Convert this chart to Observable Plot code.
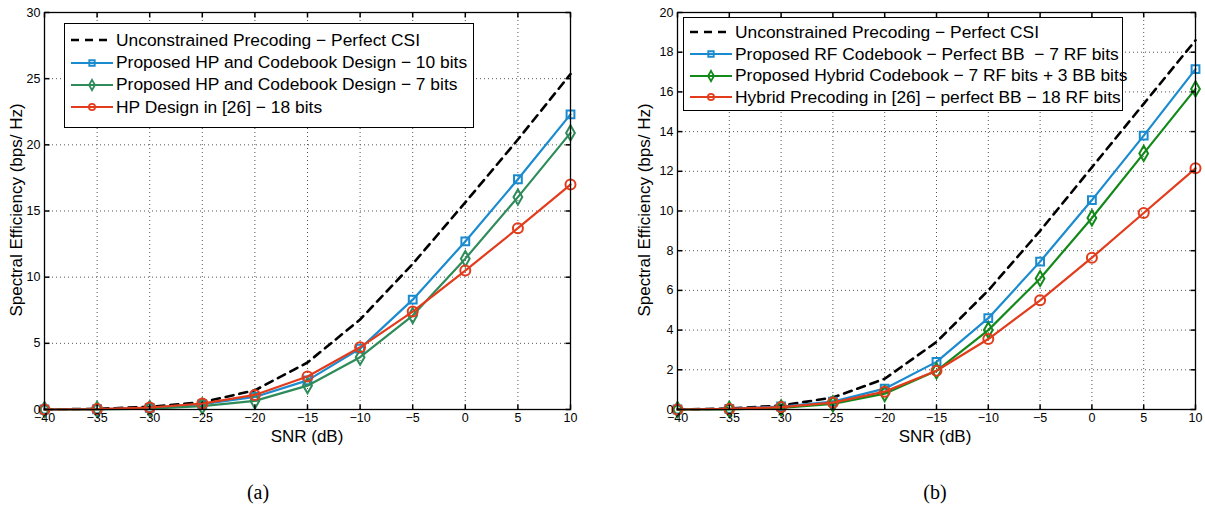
<!DOCTYPE html>
<html><head><meta charset="utf-8">
<script src="https://cdn.jsdelivr.net/npm/d3@7"></script>
<script src="https://cdn.jsdelivr.net/npm/@observablehq/plot@0.6"></script>
<style>
body{margin:0;background:#fff;}
#wrap{position:relative;width:1205px;height:508px;font-family:"Liberation Sans",Arial,sans-serif;color:#000;overflow:hidden;}
.panel{position:absolute;top:0;}
.legend{position:absolute;background:#fff;border:1.3px solid #000;box-sizing:border-box;font-size:17.4px;padding:0 0 0 6px;}
.row{display:flex;align-items:center;white-space:nowrap;}
.row svg{margin-right:3px;flex:none;}
.ylab{position:absolute;font-size:17px;white-space:nowrap;transform:translate(-50%,-50%) rotate(-90deg);}
.xlab{position:absolute;font-size:17px;white-space:nowrap;transform:translate(-50%,-50%);}
.cap{position:absolute;font-family:"Liberation Serif","Times New Roman",serif;font-size:20px;transform:translate(-50%,-50%);}
</style>
</head><body>
<div id="wrap"></div>
<script>
// ---------- data ----------
const snr = [-40, -35, -30, -25, -20, -15, -10, -5, 0, 5, 10];
const xTicks = [-40, -35, -30, -25, -20, -15, -10, -5, 0, 5, 10];

// panel (a)
const aUnconstrained = [0, 0.05, 0.2, 0.55, 1.45, 3.55, 6.8, 11.0, 15.65, 20.4, 25.35];
const aProposed10 = [0, 0.02, 0.12, 0.4, 0.95, 2.2, 4.6, 8.3, 12.7, 17.4, 22.3];
const aProposed7 = [0, 0.01, 0.07, 0.25, 0.65, 1.8, 3.95, 7.1, 11.4, 16.05, 20.9];
const aRef18 = [0, 0.03, 0.15, 0.45, 1.1, 2.5, 4.7, 7.4, 10.5, 13.7, 17.0];
const aYTicks = [0, 5, 10, 15, 20, 25, 30];
const aLabels = [
  "Unconstrained Precoding \u2212 Perfect CSI",
  "Proposed HP and Codebook Design \u2212 10 bits",
  "Proposed HP and Codebook Design \u2212 7 bits",
  "HP Design in [26] \u2212 18 bits"
];

// panel (b)
const bUnconstrained = [0, 0.05, 0.2, 0.6, 1.55, 3.4, 6.0, 9.0, 12.2, 15.4, 18.6];
const bProposedRF = [0, 0.03, 0.15, 0.4, 1.05, 2.4, 4.6, 7.45, 10.55, 13.8, 17.15];
const bHybrid = [0, 0.01, 0.08, 0.28, 0.8, 1.95, 4.0, 6.6, 9.65, 12.9, 16.15];
const bRef18 = [0, 0.03, 0.12, 0.35, 0.9, 1.95, 3.55, 5.5, 7.65, 9.9, 12.15];
const bYTicks = [0, 2, 4, 6, 8, 10, 12, 14, 16, 18, 20];
const bLabels = [
  "Unconstrained Precoding \u2212 Perfect CSI",
  "Proposed RF Codebook \u2212 Perfect BB\u00a0 \u2212 7 RF bits",
  "Proposed Hybrid Codebook \u2212 7 RF bits + 3 BB bits",
  "Hybrid Precoding in [26] \u2212 perfect BB \u2212 18 RF bits"
];

const xLabel = "SNR (dB)";
const yLabel = "Spectral Efficiency (bps/ Hz)";

// ---------- styles ----------
const BLUE = "#1a8bcf", RED = "#e23c1c";
const GREEN_A = "#2e8b5a", GREEN_B = "#13891a";

const tickUp = {draw(c){c.moveTo(0,0);c.lineTo(0,-5);}};
const tickDown = {draw(c){c.moveTo(0,0);c.lineTo(0,5);}};
const tickRight = {draw(c){c.moveTo(0,0);c.lineTo(5,0);}};
const tickLeft = {draw(c){c.moveTo(0,0);c.lineTo(-5,0);}};

function rows(ys){ return snr.map((x,i)=>({x, y: ys[i]})); }

function makePanel(cfg){
  const series = cfg.series;
  const marks = [
    Plot.ruleX(xTicks.slice(1,-1), {x: d=>d, stroke:"#555", strokeWidth:1, strokeDasharray:"1,3"}),
    Plot.ruleY(cfg.yTicks.slice(1,-1), {y: d=>d, stroke:"#555", strokeWidth:1, strokeDasharray:"1,3"}),
  ];
  for (const s of series){
    const data = rows(s.values);
    marks.push(Plot.line(data, {x:"x", y:"y", stroke:s.color, strokeWidth:s.dash?2.6:2.2, strokeDasharray:s.dash?"8,6":null}));
    if (s.symbol) marks.push(Plot.dot(data, {x:"x", y:"y", symbol:s.symbol, r:s.r, stroke:s.color, strokeWidth:2, fill:"none"}));
  }
  marks.push(
    Plot.dot(xTicks, {x:d=>d, frameAnchor:"bottom", symbol:tickUp, stroke:"#000"}),
    Plot.dot(xTicks, {x:d=>d, frameAnchor:"top", symbol:tickDown, stroke:"#000"}),
    Plot.dot(cfg.yTicks, {y:d=>d, frameAnchor:"left", symbol:tickRight, stroke:"#000"}),
    Plot.dot(cfg.yTicks, {y:d=>d, frameAnchor:"right", symbol:tickLeft, stroke:"#000"}),
    Plot.frame({stroke:"#000", strokeWidth:1.3}),
    Plot.axisX(xTicks, {tickSize:0, tickPadding:4, label:null, fontSize:12.5}),
    Plot.axisY(cfg.yTicks, {tickSize:0, tickPadding:4, label:null, fontSize:12.5})
  );
  return Plot.plot({
    width: cfg.width, height: 440,
    marginLeft: cfg.ml, marginRight: cfg.mr, marginTop: 12, marginBottom: 31,
    x: {domain:[-40,10]},
    y: {domain:[cfg.yTicks[0], cfg.yTicks[cfg.yTicks.length-1]]},
    style: {fontFamily:"'Liberation Sans', Arial, sans-serif", color:"#000", background:"transparent", overflow:"visible"},
    marks
  });
}

function legendSample(s){
  const w = 42, h = 14;
  const svg = d3.create("svg").attr("width", w).attr("height", h);
  svg.append("line").attr("x1",0).attr("x2",w).attr("y1",h/2).attr("y2",h/2)
    .attr("stroke", s.color).attr("stroke-width", s.dash?2.6:2.2)
    .attr("stroke-dasharray", s.dash?"8,6":null);
  if (s.symbol){
    const sym = {square:d3.symbolSquare, diamond:d3.symbolDiamond, circle:d3.symbolCircle}[s.symbol];
    svg.append("path").attr("d", d3.symbol(sym, 30)()).attr("transform",`translate(${w/2},${h/2})`)
      .attr("fill","none").attr("stroke", s.color).attr("stroke-width",1.8);
  }
  return svg.node();
}

function addLegend(wrap, cfg){
  const box = document.createElement("div");
  box.className = "legend";
  Object.assign(box.style, {left: cfg.lx+"px", top: cfg.ly+"px", width: cfg.lw+"px", height: cfg.lh+"px", paddingTop: cfg.lpad+"px"});
  cfg.series.forEach((s,i)=>{
    const r = document.createElement("div"); r.className = "row"; r.style.height = cfg.rowH+"px";
    r.appendChild(legendSample(s));
    const t = document.createElement("span"); t.textContent = cfg.labels[i];
    r.appendChild(t); box.appendChild(r);
  });
  wrap.appendChild(box);
}

const wrap = document.getElementById("wrap");
const panels = [
  {left:0, width:600, ml:44, mr:30, yTicks:aYTicks, labels:aLabels,
   lx:64, ly:23, lw:410, lh:105, lpad:5, rowH:22.4, ylx:17, xlx:307, cap:"(a)", capx:258,
   series:[
     {values:aUnconstrained, color:"#000", dash:true},
     {values:aProposed10, color:BLUE, symbol:"square", r:4.4},
     {values:aProposed7, color:GREEN_A, symbol:"diamond", r:4.6},
     {values:aRef18, color:RED, symbol:"circle", r:5}
   ]},
  {left:600, width:605, ml:77, mr:10, yTicks:bYTicks, labels:bLabels,
   lx:683, ly:17, lw:440, lh:94, lpad:3.5, rowH:21.7, ylx:645, xlx:935, cap:"(b)", capx:935,
   series:[
     {values:bUnconstrained, color:"#000", dash:true},
     {values:bProposedRF, color:BLUE, symbol:"square", r:4.4},
     {values:bHybrid, color:GREEN_B, symbol:"diamond", r:4.6},
     {values:bRef18, color:RED, symbol:"circle", r:5}
   ]}
];
for (const p of panels){
  const el = makePanel(p);
  const holder = document.createElement("div");
  holder.className = "panel"; holder.style.left = p.left+"px";
  holder.appendChild(el); wrap.appendChild(holder);
  addLegend(wrap, p);
  const yl = document.createElement("div"); yl.className="ylab"; yl.textContent=yLabel;
  yl.style.left = p.ylx+"px"; yl.style.top = "210px"; wrap.appendChild(yl);
  const xl = document.createElement("div"); xl.className="xlab"; xl.textContent=xLabel;
  xl.style.left = p.xlx+"px"; xl.style.top = "437px"; wrap.appendChild(xl);
  const cp = document.createElement("div"); cp.className="cap"; cp.textContent=p.cap;
  cp.style.left = p.capx+"px"; cp.style.top = "492px"; wrap.appendChild(cp);
}
</script>
</body></html>
